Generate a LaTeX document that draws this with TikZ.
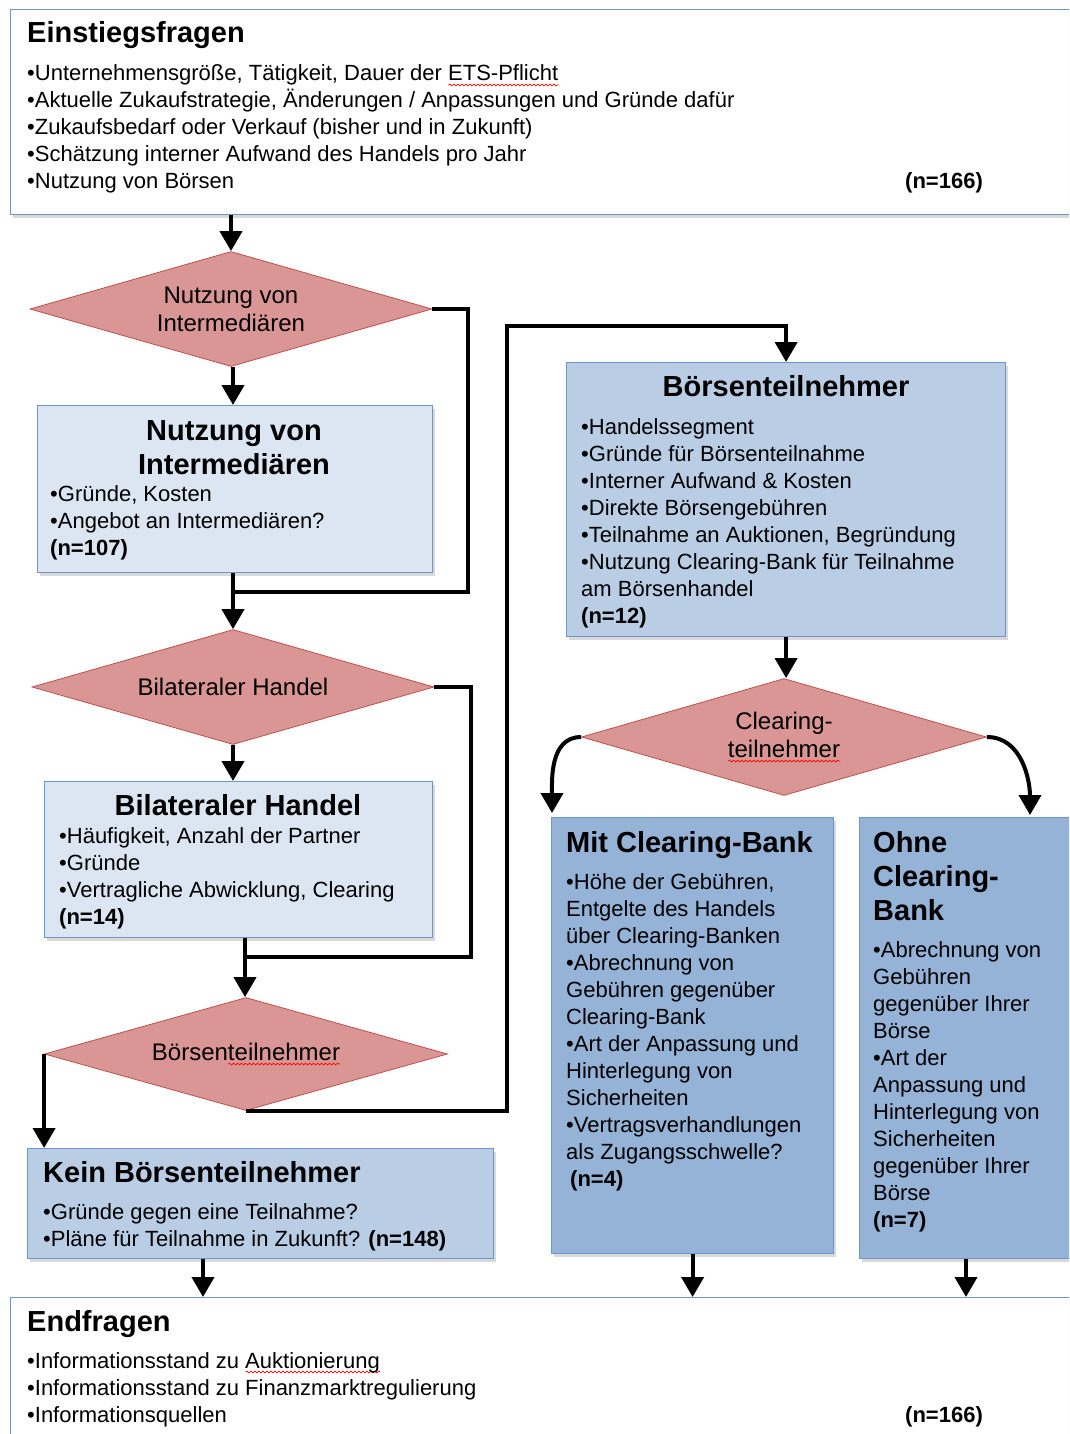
\documentclass[tikz,border=0pt]{standalone}
\usepackage{fontspec}
\setmainfont{Liberation Sans}
\usetikzlibrary{shapes.geometric,arrows.meta,shadows,positioning,decorations.pathmorphing}

\definecolor{decfill}{RGB}{217,150,148}
\definecolor{decline}{RGB}{192,80,77}
\definecolor{boxline}{RGB}{110,150,205}
\definecolor{palefill}{RGB}{220,230,242}
\definecolor{midfill}{RGB}{185,205,229}
\definecolor{deepfill}{RGB}{149,179,215}

\newsavebox\spellbox
\newlength\spellwd
\newcommand\spellmark[1]{\sbox\spellbox{#1}\setlength\spellwd{\wd\spellbox}%
  \rlap{\tikz[baseline=0pt]\draw[red,line width=0.7pt,decorate,
    decoration={snake,amplitude=0.9pt,segment length=4pt}] (0pt,-4pt) -- (\spellwd,-4pt);}%
  \usebox\spellbox}
% lines hanging from the first baseline
\newcommand\leftlines[1]{\begin{tabular}[t]{@{}l@{}}#1\end{tabular}}
\newcommand\midlines[1]{\begin{tabular}[t]{@{}c@{}}#1\end{tabular}}

\begin{document}
\begin{tikzpicture}[x=1pt,y=-1pt,
  boxstyle/.style={draw=boxline,line width=1.2pt,anchor=north west,inner sep=0pt,
    drop shadow={shadow xshift=2pt,shadow yshift=-3pt,opacity=0.3}},
  decisionstyle/.style={diamond,aspect=3.5,draw=decline,line width=0.8pt,fill=decfill,inner sep=0pt,
    minimum width=402pt,minimum height=115pt,align=center,font=\fontsize{24}{28}\selectfont},
  headstyle/.style={font=\fontsize{29}{34}\selectfont\bfseries,inner sep=0pt,anchor=base west},
  textstyle/.style={font=\fontsize{22}{27}\selectfont,inner sep=0pt,anchor=base west},
  arrowstyle/.style={line width=4pt,-{Triangle[width=22pt,length=20pt]}},
  linestyle/.style={line width=4pt}]
\clip (0,0) rectangle (1069,1434);

% boxes
\node[boxstyle,fill=white,minimum width=1075pt,minimum height=205pt] (entry) at (10,9) {};
\node[boxstyle,fill=palefill,minimum width=395pt,minimum height=167pt] (interm) at (37,405) {};
\node[boxstyle,fill=palefill,minimum width=388pt,minimum height=156pt] (bilat) at (44,781) {};
\node[boxstyle,fill=midfill,minimum width=466pt,minimum height=110pt] (kein) at (27,1148) {};
\node[boxstyle,fill=midfill,minimum width=439pt,minimum height=274pt] (boerse) at (566,362) {};
\node[boxstyle,fill=deepfill,minimum width=282pt,minimum height=436pt] (mit) at (551,817) {};
\node[boxstyle,fill=deepfill,minimum width=220pt,minimum height=441pt] (ohne) at (859,817) {};
\node[boxstyle,fill=white,minimum width=1075pt,minimum height=150pt] (endq) at (10,1297) {};

% decisions
\node[decisionstyle] (d1) at (231,309) {Nutzung von\\Intermediären};
\node[decisionstyle] (d2) at (233,687) {Bilateraler Handel};
\node[decisionstyle,minimum width=403pt,minimum height=113pt] (d3) at (246,1054) {Börsen\spellmark{teilnehmer}};
\node[decisionstyle,minimum width=405pt,minimum height=117pt] (d4) at (784,737) {Clearing-\\\spellmark{teilnehmer}};

% texts
\node[headstyle] (entryT) at (27,43) {Einstiegsfragen};
\node[textstyle] (entryL) at (27,81) {\leftlines{•Unternehmensgröße, Tätigkeit, Dauer der \spellmark{ETS-Pflicht}\\
  •Aktuelle Zukaufstrategie, Änderungen / Anpassungen und Gründe dafür\\
  •Zukaufsbedarf oder Verkauf (bisher und in Zukunft)\\
  •Schätzung interner Aufwand des Handels pro Jahr\\
  •Nutzung von Börsen}};
\node[textstyle,font=\fontsize{22}{27}\selectfont\bfseries] (entryN) at (905,189) {(n=166)};

\node[headstyle,anchor=base] (intermT) at (234,440) {\midlines{Nutzung von\\Intermediären}};
\node[textstyle] (intermL) at (50,501) {\leftlines{•Gründe, Kosten\\•Angebot an Intermediären?\\\textbf{(n=107)}}};

\node[headstyle,anchor=base] (bilatT) at (238,815) {Bilateraler Handel};
\node[textstyle] (bilatL) at (59,843) {\leftlines{•Häufigkeit, Anzahl der Partner\\•Gründe\\
  •Vertragliche Abwicklung, Clearing\\\textbf{(n=14)}}};

\node[headstyle] (keinT) at (43,1182) {Kein Börsenteilnehmer};
\node[textstyle] (keinL) at (43,1219) {\leftlines{•Gründe gegen eine Teilnahme?\\
  •Pläne für Teilnahme in Zukunft? \textbf{(n=148)}}};

\node[headstyle,anchor=base] (boerseT) at (786,396) {Börsenteilnehmer};
\node[textstyle] (boerseL) at (581,434) {\leftlines{•Handelssegment\\•Gründe für Börsenteilnahme\\
  •Interner Aufwand \& Kosten\\•Direkte Börsengebühren\\
  •Teilnahme an Auktionen, Begründung\\•Nutzung Clearing-Bank für Teilnahme\\
  am Börsenhandel\\\textbf{(n=12)}}};

\node[headstyle] (mitT) at (566,852) {Mit Clearing-Bank};
\node[textstyle] (mitL) at (566,889) {\leftlines{•Höhe der Gebühren,\\Entgelte des Handels\\über Clearing-Banken\\
  •Abrechnung von\\Gebühren gegenüber\\Clearing-Bank\\
  •Art der Anpassung und\\Hinterlegung von\\Sicherheiten\\
  •Vertragsverhandlungen\\als Zugangsschwelle?\\\hspace*{4pt}\textbf{(n=4)}}};

\node[headstyle] (ohneT) at (873,852) {\leftlines{Ohne\\Clearing-\\Bank}};
\node[textstyle] (ohneL) at (873,957) {\leftlines{•Abrechnung von\\Gebühren\\gegenüber Ihrer\\Börse\\
  •Art der\\Anpassung und\\Hinterlegung von\\Sicherheiten\\gegenüber Ihrer\\Börse\\\textbf{(n=7)}}};

\node[headstyle] (endqT) at (27,1331) {Endfragen};
\node[textstyle] (endqL) at (27,1368) {\leftlines{•Informationsstand zu \spellmark{Auktionierung}\\
  •Informationsstand zu Finanzmarktregulierung\\•Informationsquellen}};
\node[textstyle,font=\fontsize{22}{27}\selectfont\bfseries] (endqN) at (905,1422) {(n=166)};

% connectors
\coordinate (j1) at (233,592);
\coordinate (j2) at (245,957);
\coordinate (c1) at (507,326);
\coordinate (mitIn) at (552,813);
\coordinate (ohneIn) at (1030,815);
\coordinate (e1) at (203,1297);
\coordinate (e3) at (966,1297);

\draw[arrowstyle] (entry.south -| d1.north) -- (d1.north);
\draw[arrowstyle] (j1 |- d1.south) -- (j1 |- interm.north);
\draw[linestyle] (d1.east) -- ++(36,0) |- (j1);
\draw[arrowstyle] (j1 |- interm.south) -- (j1 |- d2.north);
\draw[arrowstyle] (d2.south) -- (d2.south |- bilat.north);
\draw[linestyle] (d2.east) -- ++(37,0) |- (j2);
\draw[arrowstyle] (j2 |- bilat.south) -- (j2 |- d3.north);
\draw[arrowstyle] (d3.west) -- (d3.west |- kein.north);
\draw[arrowstyle] (d3.south) -| (c1) -| (boerse.north);
\draw[arrowstyle] (boerse.south) -- (boerse.south |- d4.north);
\draw[arrowstyle] (d4.west) to[out=180,in=90] (mitIn);
\draw[arrowstyle] (d4.east) to[out=0,in=90] (ohneIn);
\draw[arrowstyle] (e1 |- kein.south) -- (e1);
\draw[arrowstyle] (mit.south) -- (mit.south |- endq.north);
\draw[arrowstyle] (e3 |- ohne.south) -- (e3);
\end{tikzpicture}
\end{document}
